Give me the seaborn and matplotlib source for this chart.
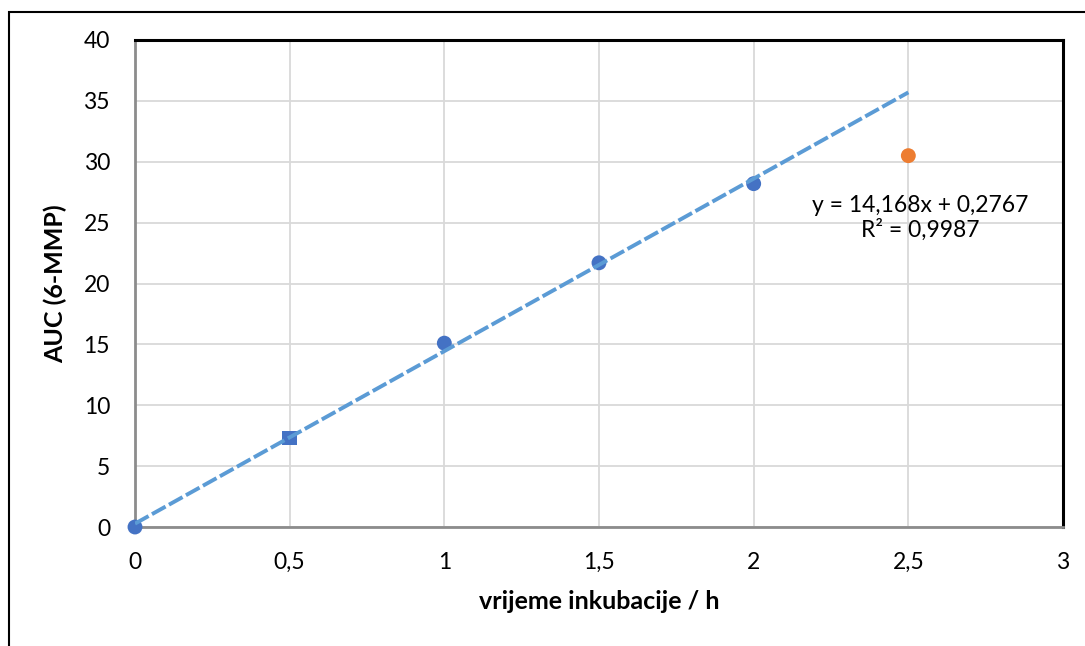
import matplotlib
matplotlib.use("Agg")
import matplotlib.pyplot as plt
import matplotlib.ticker as mticker
from matplotlib.patches import Rectangle
import seaborn as sns
import numpy as np
import pandas as pd

# data
time_h = [0, 0.5, 1, 1.5, 2]
auc = [0.0, 7.3, 15.1, 21.7, 28.2]
outlier_time = [2.5]
outlier_auc = [30.5]
slope, intercept = 14.168, 0.2767
fit_x = [0, 2.5]
x_ticks = [0, 0.5, 1, 1.5, 2, 2.5, 3]
y_ticks = [0, 5, 10, 15, 20, 25, 30, 35, 40]

sns.set_theme(style="white")
plt.rcParams["font.family"] = ["Lato", "DejaVu Sans"]
plt.rcParams["text.color"] = "black"
plt.rcParams["axes.labelcolor"] = "black"
plt.rcParams["xtick.color"] = "black"
plt.rcParams["ytick.color"] = "black"

fig = plt.figure(figsize=(10.85, 6.46), dpi=100)
ax = fig.add_axes([135 / 1085, 1 - 527 / 646, (1063 - 135) / 1085, (527 - 40) / 646])

# outer chart frame (runs off the right/bottom edge)
fig.patches.append(Rectangle((9 / 1085, -0.05), 1.1, 1 - 12 / 646 + 0.05,
                             transform=fig.transFigure, fill=False,
                             edgecolor="black", linewidth=1.5, zorder=0))

markers = ["s" if t == 0.5 else "o" for t in time_h]
for t, a, m in zip(time_h, auc, markers):
    sns.scatterplot(x=[t], y=[a], ax=ax, color="#4472C4", s=115 if m == "o" else 110,
                    marker=m, edgecolor="none", zorder=3, clip_on=False)
sns.scatterplot(x=outlier_time, y=outlier_auc, ax=ax, color="#ED7D31", s=115,
                edgecolor="none", zorder=3, clip_on=False)

fit_y = [slope * x + intercept for x in fit_x]
sns.lineplot(x=fit_x, y=fit_y, ax=ax, color="#5B9BD5", linewidth=2.8,
             linestyle=(0, (4, 1.0)), zorder=4)

ax.set_xlim(0, 3)
ax.set_ylim(0, 40)
ax.set_xticks(x_ticks)
ax.set_yticks(y_ticks)
fmt = mticker.FuncFormatter(lambda v, p: f"{v:g}".replace(".", ","))
ax.xaxis.set_major_formatter(fmt)
ax.yaxis.set_major_formatter(fmt)
ax.tick_params(axis="both", labelsize=16.5, length=0)
ax.tick_params(axis="x", pad=18)
ax.tick_params(axis="y", pad=18)
ax.grid(True, color="#D9D9D9", linewidth=1.3)
ax.set_axisbelow(True)

for side in ["left", "bottom"]:
    ax.spines[side].set_color("#8C8C8C")
    ax.spines[side].set_linewidth(2)
for side in ["top", "right"]:
    ax.spines[side].set_color("black")
    ax.spines[side].set_linewidth(2.2)

ax.set_xlabel("vrijeme inkubacije / h", fontsize=18, fontweight="bold", labelpad=12)
ax.set_ylabel("AUC (6-MMP)", fontsize=18, fontweight="bold", labelpad=12)

ax.text(2.538, 25.4, "y = 14,168x + 0,2767\nR² = 0,9987", fontsize=16.5,
        ha="center", va="center", linespacing=1.15)

fig.savefig("out.png", dpi=100)
